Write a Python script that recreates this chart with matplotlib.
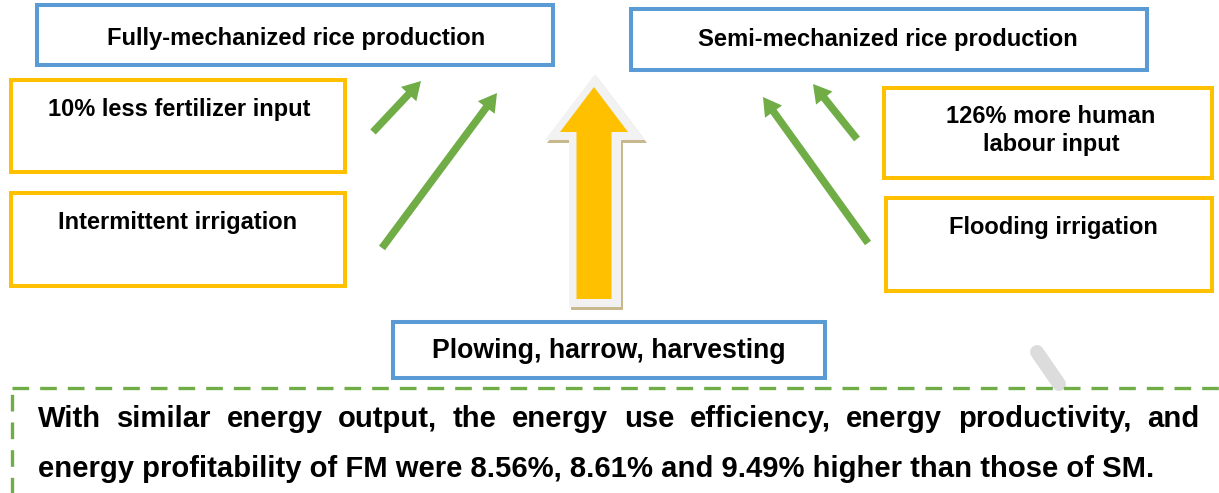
import matplotlib
matplotlib.use("Agg")
import matplotlib.pyplot as plt
from matplotlib.patches import FancyArrow, Polygon, Rectangle

plt.rcParams['font.family'] = ['Liberation Sans', 'DejaVu Sans']

W, H = 1219, 493
BLUE = '#5b9bd5'
ORANGE = '#ffc000'
GREEN = '#70ad47'

# ---- text content ----
top_left_label = "Fully-mechanized rice production"
top_right_label = "Semi-mechanized rice production"
left_labels = ["10% less fertilizer input", "Intermittent irrigation"]
right_labels = [["126% more human", "labour input"], ["Flooding irrigation"]]
bottom_label = "Plowing, harrow, harvesting"
summary_line1 = "With similar energy output, the energy use efficiency, energy productivity, and"
summary_line2 = "energy profitability of FM were 8.56%, 8.61% and 9.49% higher than those of SM."

fig = plt.figure(figsize=(W / 100, H / 100), dpi=100)
ax = fig.add_axes([0, 0, 1, 1])
ax.set_xlim(0, W)
ax.set_ylim(H, 0)
ax.axis('off')
fig.canvas.draw()
renderer = fig.canvas.get_renderer()


def box(x0, y0, x1, y1, color, lw=2.9):
    ax.add_patch(Rectangle((x0, y0), x1 - x0, y1 - y0, fill=False,
                           edgecolor=color, linewidth=lw, joinstyle='miter'))


def text_w(s, size):
    t = ax.text(0, 0, s, fontsize=size, fontweight='bold')
    bb = t.get_window_extent(renderer)
    t.remove()
    return bb.width


def label(x, y, s, size):
    ax.text(x, y, s, fontsize=size, fontweight='bold', ha='center', va='baseline',
            color='black')


# ---- boxes ----
box(37, 5, 553, 65, BLUE)
box(631, 9, 1147, 70, BLUE)
box(393, 322, 825, 378, BLUE)
box(11, 80, 345, 172, ORANGE)
box(11, 193, 345, 286, ORANGE)
box(884, 88, 1212, 178, ORANGE)
box(886, 198, 1212, 291, ORANGE)

# ---- labels ----
label(296, 45, top_left_label, 17.1)
label(888, 46, top_right_label, 17.1)
label(179, 116, left_labels[0], 17.0)
label(178, 229, left_labels[1], 17.0)
label(1051, 123, right_labels[0][0], 17.0)
label(1051, 151, right_labels[0][1], 17.0)
label(1053, 234, right_labels[1][0], 17.0)
label(609, 358, bottom_label, 19.2)

# ---- green arrows ----
arrows = [((373, 132), (421, 81)), ((382, 248), (497, 93)),
          ((868, 243), (763, 97)), ((857, 139), (813, 84))]
for (x0, y0), (x1, y1) in arrows:
    ax.add_patch(FancyArrow(x0, y0, x1 - x0, y1 - y0, width=7.5, head_width=21,
                            head_length=18, length_includes_head=True,
                            color=GREEN, linewidth=0))

# ---- big central arrow ----
def arrow_poly(cx, tip, head_base, head_half, shaft_half, bottom):
    return [(cx, tip), (cx + head_half, head_base), (cx + shaft_half, head_base),
            (cx + shaft_half, bottom), (cx - shaft_half, bottom),
            (cx - shaft_half, head_base), (cx - head_half, head_base)]

ax.add_patch(Polygon(arrow_poly(597, 77, 143, 50, 26, 310), closed=True,
                     facecolor='#c8b88e', edgecolor='none'))
ax.add_patch(Polygon(arrow_poly(595, 74, 140, 50, 26, 307), closed=True,
                     facecolor='#f2f2f2', edgecolor='none'))
ax.add_patch(Polygon(arrow_poly(594, 87, 132, 34, 17.5, 299), closed=True,
                     facecolor=ORANGE, edgecolor='none'))

# ---- gray stroke ----
ax.plot([1037, 1059], [352, 384], color='#dcdcdc', linewidth=10,
        solid_capstyle='round', zorder=1)

# ---- dashed summary box ----
ax.add_patch(Rectangle((12, 388), 1260, 140, fill=False, edgecolor=GREEN,
                       linewidth=2.4, linestyle=(0, (5, 3.3)), zorder=2,
                       clip_on=True))

# ---- summary text (line 1 justified) ----
fs = 21.1
words = summary_line1.split(' ')
left, right = 38, 1199
widths = [text_w(w, fs) for w in words]
gap = (right - left - sum(widths)) / (len(words) - 1)
x = left
for w, ww in zip(words, widths):
    ax.text(x, 427, w, fontsize=fs, fontweight='bold', ha='left', va='baseline')
    x += ww + gap
ax.text(38, 477, summary_line2, fontsize=fs, fontweight='bold', ha='left', va='baseline')

fig.savefig('out.png', dpi=100)
